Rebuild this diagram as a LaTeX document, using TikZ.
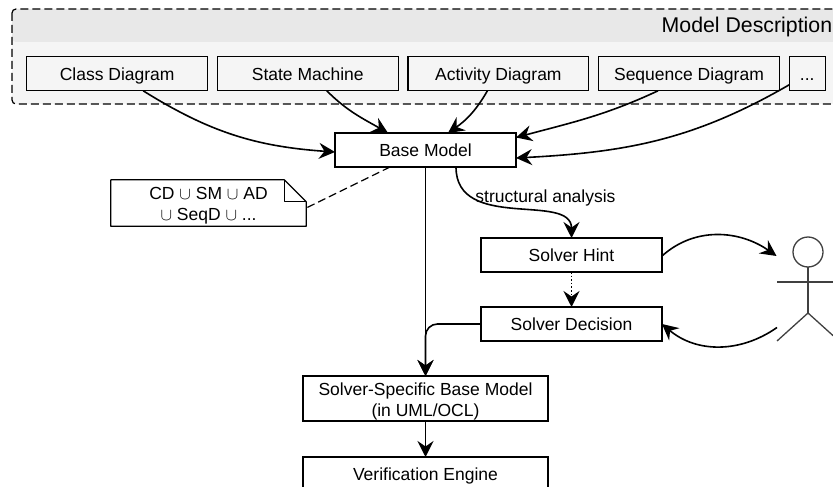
\documentclass[tikz,border=0pt]{standalone}
\usepackage{fontspec}
\setmainfont{Liberation Sans}
\usepackage{xcolor}
\usepackage{tikz}
\usetikzlibrary{matrix,arrows.meta,calc}

\definecolor{headgray}{HTML}{E8E8E8}
\definecolor{bodygray}{HTML}{F5F5F5}

\tikzset{
    box/.style={draw, line width=1.2pt, rectangle, inner sep=0pt, outer sep=0pt, minimum width=181pt, minimum height=34pt, font=\fontsize{17.5}{21}\selectfont, text height=15pt, text depth=2pt},
    flow/.style={line width=1.6pt, -{Stealth[length=16pt,width=16pt,inset=5.5pt]}},
    actorline/.style={draw=black!75, line width=1.3pt}
}

\begin{document}
\begin{tikzpicture}[x=1pt,y=-1pt]
    \useasboundingbox (0,0) rectangle (833,487);
    \clip (0,0) rectangle (833,487);

    % dashed group behind the diagrams
    \fill[bodygray, rounded corners=4pt] (12,9) rectangle (860,104);
    \fill[headgray, rounded corners=4pt] (12,9) -- (12,42) -- (860,42) -- (860,9) -- cycle;
    \draw[line width=1.2pt, dash pattern=on 8pt off 4pt, rounded corners=4pt] (12,9) rectangle (860,104);
    \node[anchor=west, inner sep=0pt, font=\fontsize{21.3}{25}\selectfont] (group) at (661.5,27) {Model Description};

    \matrix (m)[matrix of nodes, anchor=north west, inner sep=0pt, column sep=8.6pt, nodes={box, minimum width=180.8pt}, column 5/.style={nodes={minimum width=36pt}}] at (26,56) {
        Class Diagram & State Machine & Activity Diagram & Sequence Diagram & ... \\
    };

    \node[box] (base) at (425.5,150) {Base Model};
    \node[box] (hint) at (571.5,255) {Solver Hint};
    \node[box] (decision) at (571.5,324) {Solver Decision};
    \node[box, minimum width=245pt, minimum height=45pt, align=center, text height=, text depth=] (spec) at (425.5,398.5) {\rule{0pt}{18pt}Solver-Specific Base Model\\(in UML/OCL)};
    \node[box, minimum width=245pt] (engine) at (425.5,474) {Verification Engine};

    % note with folded corner
    \node[inner sep=0pt, minimum width=195pt, minimum height=46pt, align=center, font=\fontsize{17.5}{21}\selectfont] (note) at (208.5,203) {\rule{0pt}{18pt}CD $\cup$ SM $\cup$ AD\\$\cup$ SeqD $\cup$ ...};
    \draw[line width=1.2pt, line join=round] (note.north west) -- ([xshift=-22]note.north east) -- ([yshift=-22]note.north east) -- (note.south east) -- (note.south west) -- cycle;
    \draw[line width=1.2pt, line join=round] ([xshift=-22]note.north east) -- ([xshift=-22,yshift=-22]note.north east) -- ([yshift=-22]note.north east);
    \draw[line width=1.2pt, dash pattern=on 8pt off 4pt] ([xshift=-35.5]base.south) -- ([yshift=-5]note.east);

    % actor
    \node[circle, actorline, minimum size=30pt, inner sep=0pt, outer sep=0pt] (head) at (808,252) {};
    \coordinate (hip) at (808,313);
    \coordinate (actorin) at (776.5,256);
    \coordinate (actorout) at (777,327.5);
    \draw[actorline] (head.south) -- (hip);
    \draw[actorline] (777,282) -- (839,282);
    \draw[actorline] (777,341) -- (hip) -- (839,341);

    % arrows into the base model
    \draw[flow] ([xshift=26]m-1-1.south) to[out=-32,in=176] ([yshift=-2]base.west);
    \draw[flow] ([xshift=19]m-1-2.south) to[out=-45,in=150] ([xshift=-37.5]base.north);
    \draw[flow] ([xshift=-11]m-1-3.south) to[out=-120,in=35] ([xshift=22.5]base.north);
    \draw[flow] ([xshift=-31]m-1-4.south) to[out=-155,in=15] ([yshift=12.5]base.east);
    \draw[flow] ([yshift=-11]m-1-5.west) to[out=-150,in=3] ([yshift=-8]base.east);

    % main line and the solver branch
    \draw[flow] (base.south) -- (spec.north);
    \draw[flow] (spec.south) -- (engine.north);
    \draw[flow] ([xshift=30.5]base.south) .. controls +(0,65) and +(0,-46) .. (hint.north);
    \node[inner sep=0pt, font=\fontsize{17.5}{21}\selectfont] (analysis) at (545.5,198) {structural analysis};
    \draw[flow, dotted] (hint.south) -- (decision.north);
    \draw[flow, rounded corners=12pt] (decision.west) -| (spec.north);

    \draw[flow] ([yshift=-1]hint.east) to[out=42,in=145] (actorin);
    \draw[flow] (actorout) to[out=-145,in=-40] (decision.east);
\end{tikzpicture}
\end{document}
